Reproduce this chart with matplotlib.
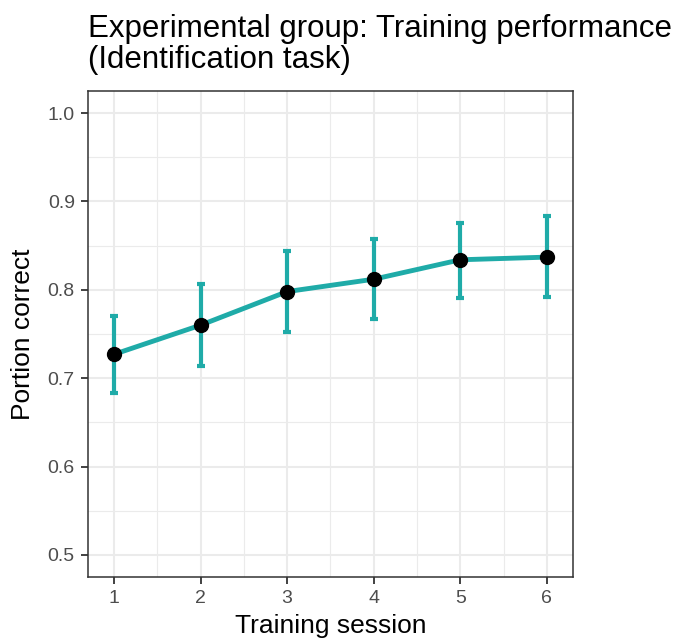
import matplotlib
matplotlib.use("Agg")
import matplotlib.pyplot as plt
from matplotlib.ticker import MultipleLocator

plt.rcParams['font.family'] = ['Liberation Sans', 'DejaVu Sans']

# values
sessions = [1, 2, 3, 4, 5, 6]
portion_correct = [0.727, 0.760, 0.798, 0.812, 0.834, 0.837]
err_upper = [0.770, 0.807, 0.844, 0.857, 0.876, 0.883]
err_lower = [0.683, 0.714, 0.752, 0.767, 0.791, 0.792]
y_ticks = [0.5, 0.6, 0.7, 0.8, 0.9, 1.0]

teal = '#1FABA8'

fig = plt.figure(figsize=(6.81, 6.39), dpi=100)
ax = fig.add_axes([0.1292, 0.097, 0.712, 0.7606])

yerr = [[m - lo for m, lo in zip(portion_correct, err_lower)],
        [hi - m for m, hi in zip(portion_correct, err_upper)]]
ax.errorbar(sessions, portion_correct, yerr=yerr, fmt='none', ecolor=teal,
            elinewidth=3, capsize=3, capthick=3, zorder=3)
ax.plot(sessions, portion_correct, color=teal, lw=3.5, zorder=4)
ax.plot(sessions, portion_correct, 'o', color='black', ms=10, zorder=5)

ax.set_xlim(0.7, 6.3)
ax.set_ylim(0.475, 1.025)
ax.xaxis.set_major_locator(MultipleLocator(1))
ax.xaxis.set_minor_locator(MultipleLocator(0.5))
ax.yaxis.set_minor_locator(MultipleLocator(0.05))
ax.set_yticks(y_ticks)
ax.set_yticklabels([f'{v:.1f}' for v in y_ticks])

ax.grid(which='major', color='#EBEBEB', lw=1.5, zorder=0)
ax.grid(which='minor', color='#EBEBEB', lw=0.8, zorder=0)
ax.set_axisbelow(True)
for s in ax.spines.values():
    s.set_color('#333333')
    s.set_linewidth(1.1)
ax.tick_params(which='major', direction='out', length=5, width=1.3,
               color='#333333', labelcolor='#4D4D4D', labelsize=14, pad=4.5)
ax.tick_params(which='minor', length=0)

ax.set_xlabel('Training session', fontsize=19, labelpad=5)
ax.set_ylabel('Portion correct', fontsize=19, labelpad=9)
fig.text(88 / 681, 1 - 37 / 639, 'Experimental group: Training performance',
         fontsize=22.5, ha='left', va='baseline')
fig.text(88 / 681, 1 - 68 / 639, '(Identification task)',
         fontsize=22.5, ha='left', va='baseline')

fig.savefig('out.png', dpi=100)
